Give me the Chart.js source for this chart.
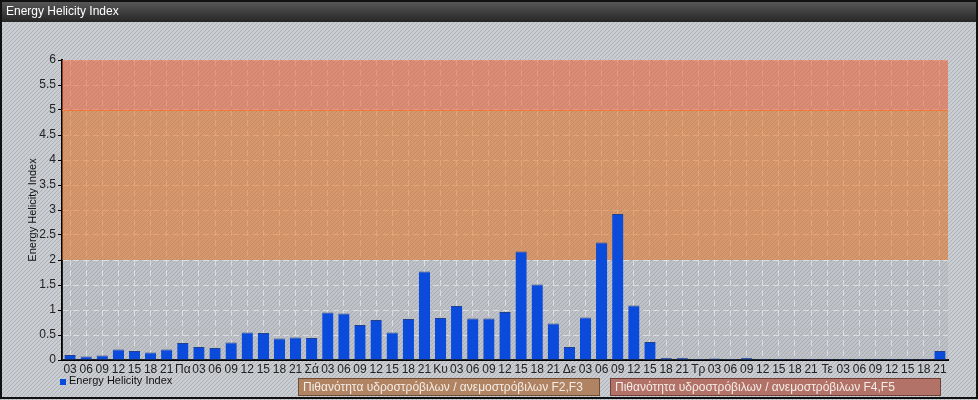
<!DOCTYPE html>
<html>
<head>
<meta charset="utf-8">
<script src="https://cdn.jsdelivr.net/npm/chart.js@4.4.0/dist/chart.umd.min.js"></script>
<style>
  html, body { margin: 0; padding: 0; background: #c9cdd1; }
  #wrap { position: relative; width: 978px; height: 400px; }
</style>
</head>
<body>
<div id="wrap"><canvas id="chart" width="978" height="400"></canvas></div>
<script>
// x labels (3-hourly steps, day names at 00)
const hours = ["03","06","09","12","15","18","21",
  "Πα","03","06","09","12","15","18","21",
  "Σά","03","06","09","12","15","18","21",
  "Κυ","03","06","09","12","15","18","21",
  "Δε","03","06","09","12","15","18","21",
  "Τρ","03","06","09","12","15","18","21",
  "Τε","03","06","09","12","15","18","21"];

const ehi = [0.10,0.07,0.09,0.21,0.18,0.15,0.21,
  0.34,0.26,0.24,0.35,0.55,0.54,0.43,0.45,
  0.44,0.95,0.93,0.70,0.80,0.55,0.82,1.77,
  0.84,1.08,0.83,0.83,0.96,2.17,1.51,0.73,
  0.26,0.85,2.35,2.92,1.09,0.36,0.04,0.04,
  0.02,0.03,0.02,0.04,0.02,0.02,0.02,0.02,
  0.02,0.02,0.02,0.02,0.02,0.02,0.02,0.18];

// risk bands: [from, to, colour]
const bandFrom = [0, 2, 5];
const bandTo = [2, 5, 6];
const bandColors = ["rgba(150,155,165,0.2)", "rgba(220,115,40,0.6)", "rgba(228,100,62,0.62)"];

const legendTitle = "Energy Helicity Index";
const riskLabels = ["Πιθανότητα υδροστρόβιλων / ανεμοστρόβιλων F2,F3",
                    "Πιθανότητα υδροστρόβιλων / ανεμοστρόβιλων F4,F5"];

// striped background pattern
function stripes(ctx) {
  const p = document.createElement("canvas");
  p.width = 4; p.height = 4;
  const c = p.getContext("2d");
  c.fillStyle = "#cacdd1";
  c.fillRect(0, 0, 4, 4);
  c.fillStyle = "rgba(120,130,140,0.35)";
  for (let i = 0; i < 4; i++) c.fillRect(i, 3 - i, 1, 1);
  return ctx.createPattern(p, "repeat");
}

const frame = {
  id: "frame",
  beforeDraw(chart) {
    const { ctx, width, height } = chart;
    ctx.save();
    ctx.fillStyle = stripes(ctx);
    ctx.fillRect(0, 0, width, height);
    // title bar
    const g = ctx.createLinearGradient(0, 0, 0, 22);
    g.addColorStop(0, "#5c5c5c");
    g.addColorStop(1, "#262626");
    ctx.fillStyle = g;
    ctx.fillRect(0, 0, width, 22);
    ctx.fillStyle = "#fff";
    ctx.font = "12px 'Liberation Sans', Arial";
    ctx.textBaseline = "middle";
    ctx.fillText("Energy Helicity Index", 6, 12);
    // outer border
    ctx.strokeStyle = "#111";
    ctx.lineWidth = 2;
    ctx.strokeRect(1, 1, width - 2, height - 3);
    ctx.restore();
  },
  beforeDatasetsDraw(chart) {
    const { ctx, chartArea: a, scales: { y } } = chart;
    ctx.save();
    for (let i = 0; i < bandFrom.length; i++) {
      const t = y.getPixelForValue(bandTo[i]);
      const b = y.getPixelForValue(bandFrom[i]);
      ctx.fillStyle = bandColors[i];
      ctx.fillRect(a.left, t, a.right - a.left, b - t);
    }
    ctx.strokeStyle = "rgba(240,115,55,0.9)";
    ctx.lineWidth = 1;
    ctx.beginPath();
    const y5 = Math.round(y.getPixelForValue(5)) + 0.5;
    ctx.moveTo(a.left, y5); ctx.lineTo(a.right, y5);
    ctx.stroke();
    ctx.restore();
  },
  afterDraw(chart) {
    const { ctx } = chart;
    ctx.save();
    ctx.font = "11px 'Liberation Sans', Arial";
    ctx.textBaseline = "middle";
    // legend
    ctx.fillStyle = "#0b4bdc";
    ctx.fillRect(60, 379, 6, 6);
    ctx.fillStyle = "#111";
    ctx.fillText(legendTitle, 69, 381);
    // risk boxes
    const boxes = [[298, 302, "#b08362", "#6e4f36"], [610, 331, "#b27268", "#6e4038"]];
    ctx.font = "12px 'Liberation Sans', Arial";
    boxes.forEach((bx, i) => {
      ctx.fillStyle = bx[2];
      ctx.fillRect(bx[0], 378, bx[1], 18);
      ctx.strokeStyle = bx[3];
      ctx.lineWidth = 1;
      ctx.strokeRect(bx[0] + 0.5, 378.5, bx[1] - 1, 17);
      ctx.fillStyle = "#f4ece6";
      ctx.fillText(riskLabels[i], bx[0] + 5, 387.5);
    });
    ctx.restore();
  }
};

new Chart(document.getElementById("chart"), {
  type: "bar",
  data: {
    labels: hours,
    datasets: [{
      label: legendTitle,
      data: ehi,
      backgroundColor: "#0b4bdc",
      borderColor: "#23408f",
      borderWidth: { top: 1, left: 0, right: 0, bottom: 0 },
      borderSkipped: "bottom",
      categoryPercentage: 1,
      barPercentage: 0.7
    }]
  },
  options: {
    responsive: false,
    animation: false,
    layout: { padding: { left: 26, right: 30, top: 60, bottom: 0 } },
    plugins: { legend: { display: false }, tooltip: { enabled: false } },
    scales: {
      x: {
        afterFit: s => { s.height = 40; },
        grid: {
          offset: false,
          color: "rgba(255,255,255,0.7)",
          drawTicks: false
        },
        border: { color: "#000", width: 2, dash: [6, 4] },
        ticks: {
          color: "#222",
          font: { size: 12, family: "'Liberation Sans', Arial" },
          autoSkip: false,
          maxRotation: 0,
          padding: 2
        }
      },
      y: {
        min: 0,
        max: 6,
        afterFit: s => { s.width = 36; },
        ticks: {
          stepSize: 0.5,
          color: "#222",
          font: { size: 12, family: "'Liberation Sans', Arial" },
          padding: 2,
          callback: v => String(+v.toFixed(1))
        },
        grid: {
          color: "rgba(255,255,255,0.7)",
          tickColor: "#000",
          tickLength: 4
        },
        border: { color: "#000", width: 2, dash: [6, 4] },
        title: {
          display: true,
          text: "Energy Helicity Index",
          color: "#111",
          font: { size: 11, family: "'Liberation Sans', Arial" },
          padding: 0
        }
      }
    }
  },
  plugins: [frame]
});
</script>
</body>
</html>
